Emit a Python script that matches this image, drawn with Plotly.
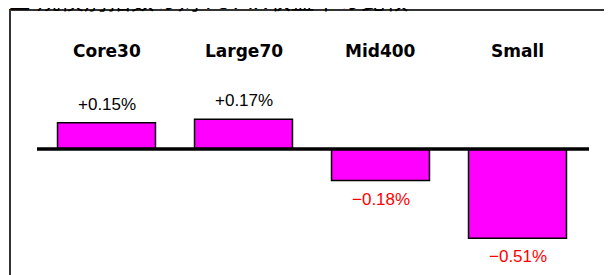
import plotly.graph_objects as go

# ---- data ----
categories = ["Core30", "Large70", "Mid400", "Small"]
values = [0.15, 0.17, -0.18, -0.51]   # relative return vs TOPIX, %
title_text = "■ 規模別指数の対TOPIX収益率の比較"

W, H = 612, 275
OFF = 8  # page body margin offset of the figure in the window

def fmt(v):
    return ("+" if v >= 0 else "\u2212") + f"{abs(v):.2f}%"

fig = go.Figure()
fig.add_trace(go.Bar(
    x=categories, y=values,
    marker=dict(color="#FF00FF", line=dict(color="#000000", width=1.5)),
    hoverinfo="skip", showlegend=False,
))

# axes: zero at y=149px (window), 175px per 1%
zero_px = 149 - OFF
ppu = 175.0
y_top = zero_px / ppu
y_bot = -(H - zero_px) / ppu

fig.update_layout(
    width=W, height=H,
    margin=dict(l=0, r=0, t=0, b=0),
    paper_bgcolor="white", plot_bgcolor="white",
    bargap=0.285,
    xaxis=dict(domain=[(38 - OFF) / W, (586 - OFF) / W], range=[-0.5, 3.5],
               visible=False, fixedrange=True),
    yaxis=dict(domain=[0, 1], range=[y_bot, y_top], visible=False,
               fixedrange=True),
    font=dict(family="Liberation Sans, Arial, sans-serif"),
)

annotations = []
# category labels
for c in categories:
    annotations.append(dict(
        x=c, y=1 - (51 - OFF) / H, xref="x", yref="paper", text=c,
        showarrow=False,
        font=dict(family="DejaVu Sans", size=17, color="#000000", weight="bold"),
        yanchor="middle",
    ))
# value labels
for c, v in zip(categories, values):
    annotations.append(dict(
        x=c, y=v, xref="x", yref="y", text=fmt(v), showarrow=False,
        font=dict(family="Liberation Sans", size=17,
                  color="#000000" if v >= 0 else "#FF0000"),
        yanchor="bottom" if v >= 0 else "top",
        yshift=7 if v >= 0 else -7,
    ))
# title (cut off at top of the image)
annotations.append(dict(
    x=-2 / W, y=1, xref="paper", yref="paper", text=title_text,
    showarrow=False,
    font=dict(family="Noto Sans CJK JP", size=23.5, color="#000000"),
    xanchor="left", yanchor="bottom", yshift=-10.5,
))
fig.update_layout(annotations=annotations)

# frame box (extends beyond the right/bottom edges)
fig.add_shape(type="rect", xref="paper", yref="paper",
              x0=(10 - OFF) / W, x1=1.05, y0=-0.05, y1=1 - (10 - OFF) / H,
              line=dict(color="#333333", width=2), layer="below")
# zero baseline
fig.add_shape(type="line", xref="paper", yref="y",
              x0=(37 - OFF) / W, x1=(589 - OFF) / W, y0=0, y1=0,
              line=dict(color="#000000", width=3.5), layer="above")

fig.write_html("out.html", config={"displayModeBar": False})
